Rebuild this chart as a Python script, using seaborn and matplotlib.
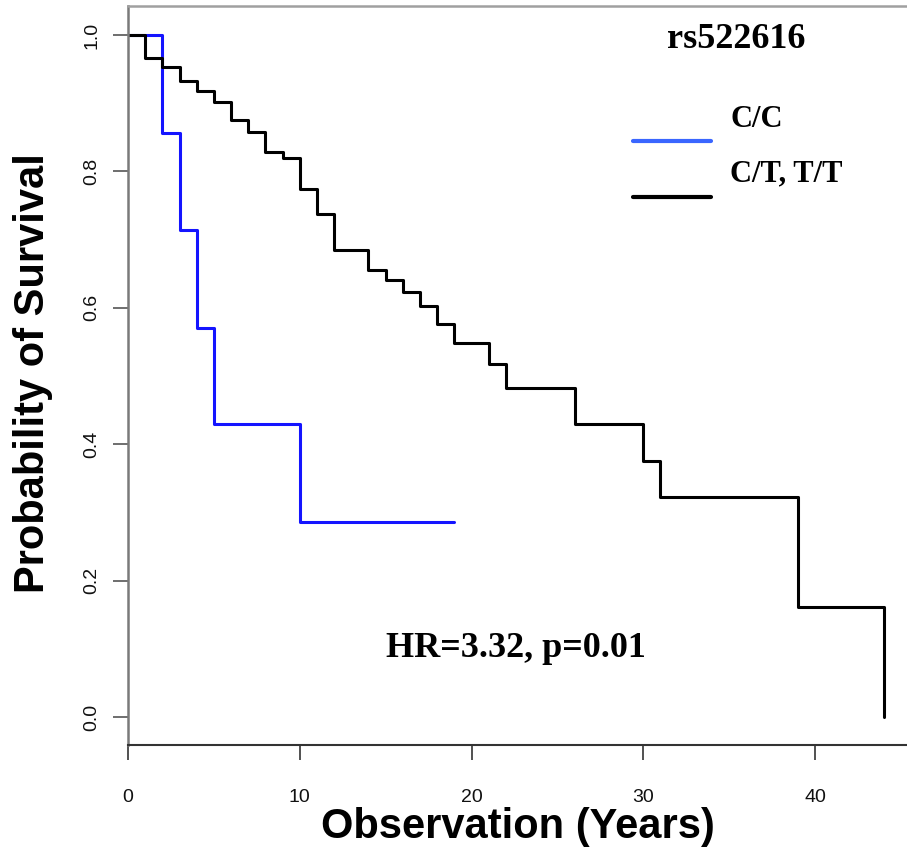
import matplotlib
matplotlib.use("Agg")
import matplotlib.pyplot as plt
from matplotlib.lines import Line2D
import seaborn as sns
import pandas as pd

# ---- data ----
cc_time = [0, 2, 3, 4, 5, 10, 19]
cc_surv = [1.0, 0.857, 0.714, 0.571, 0.429, 0.286, 0.286]

ct_time = [0, 1, 2, 3, 4, 5, 6, 7, 8, 9, 10, 11, 12, 14, 15, 16, 17, 18, 19,
           21, 22, 26, 30, 31, 39, 44]
ct_surv = [1.0, 0.966, 0.953, 0.932, 0.918, 0.902, 0.875, 0.858, 0.829, 0.819,
           0.774, 0.737, 0.685, 0.656, 0.641, 0.623, 0.602, 0.576, 0.548,
           0.517, 0.483, 0.429, 0.376, 0.322, 0.161, 0.0]

group_labels = ["C/C", "C/T, T/T"]
snp_title = "rs522616"
stats_text = "HR=3.32, p=0.01"
x_ticks = [0, 10, 20, 30, 40]
y_ticks = [0.0, 0.2, 0.4, 0.6, 0.8, 1.0]

curve_colors = {"C/C": "#1414ff", "C/T, T/T": "#000000"}
legend_colors = ["#3a66ff", "#000000"]

df = pd.concat([
    pd.DataFrame({"time": cc_time, "surv": cc_surv, "group": group_labels[0]}),
    pd.DataFrame({"time": ct_time, "surv": ct_surv, "group": group_labels[1]}),
])

sns.set_style("white")
plt.rcParams["font.family"] = ["Liberation Sans", "DejaVu Sans"]
plt.rcParams["text.color"] = "black"
plt.rcParams["axes.labelcolor"] = "black"

W, H = 907, 849
fig = plt.figure(figsize=(W / 100, H / 100), dpi=100)
ax_left, ax_right, ax_top, ax_bottom = 128, 914, 6, 745
ax = fig.add_axes([ax_left / W, (H - ax_bottom) / H,
                   (ax_right - ax_left) / W, (ax_bottom - ax_top) / H])

for g in group_labels:
    sub = df[df["group"] == g]
    sns.lineplot(data=sub, x="time", y="surv", ax=ax, color=curve_colors[g],
                 drawstyle="steps-post", estimator=None, sort=False,
                 linewidth=2.2, legend=False)

ax.set_xlim(0, 45.76)
ax.set_ylim(-0.041, 1.0425)
ax.set_xticks(x_ticks)
ax.set_yticks(y_ticks)
ax.set_xticklabels([str(t) for t in x_ticks], fontsize=14, color="#111111")
ax.set_yticklabels([f"{t:.1f}" for t in y_ticks], fontsize=14, rotation=90,
                   va="center", color="#111111")
ax.tick_params(axis="x", bottom=True, direction="out", length=11, width=1.2,
               color="#333333", pad=21)
ax.tick_params(axis="y", left=True, direction="out", length=11, width=1.2,
               color="#555555", pad=9)

for side in ["left", "top", "bottom", "right"]:
    ax.spines[side].set_visible(True)
ax.spines["left"].set_color("#7a7a7a")
ax.spines["left"].set_linewidth(1.8)
ax.spines["top"].set_color("#a0a0a0")
ax.spines["top"].set_linewidth(1.8)
ax.spines["bottom"].set_color("#333333")
ax.spines["bottom"].set_linewidth(1.5)
ax.spines["right"].set_color("#a0a0a0")

ax.set_xlabel("Observation (Years)", fontsize=30, fontweight="bold",
              labelpad=0, color="black")
ax.xaxis.set_label_coords((518 - ax_left) / (ax_right - ax_left),
                          -(838 - ax_bottom) / (ax_bottom - ax_top))
ax.xaxis.label.set_va("baseline")
ax.set_ylabel("Probability of Survival", fontsize=30, fontweight="bold",
              color="black")
ax.yaxis.set_label_coords(-(128 - 33) / (ax_right - ax_left), (745 - 373) / (ax_bottom - ax_top))
ax.yaxis.label.set_va("center")

serif = ["Liberation Serif", "DejaVu Serif"]
fig.text(736 / W, 1 - 48 / H, snp_title, family=serif, fontweight="bold",
         fontsize=26, ha="center", va="baseline", color="black")
fig.text(516 / W, 1 - 657 / H, stats_text, family=serif, fontweight="bold",
         fontsize=26, ha="center", va="baseline", color="black")

# legend drawn in the style of R's legend()
leg_y_line = [141, 197]
leg_y_text = [127, 181]
for lbl, col, yl, yt in zip(group_labels, legend_colors, leg_y_line, leg_y_text):
    fig.add_artist(Line2D([633 / W, 711 / W], [1 - yl / H, 1 - yl / H],
                          color=col, linewidth=3, transform=fig.transFigure))
    fig.text(730 / W, 1 - yt / H, lbl, family=serif, fontweight="bold",
             fontsize=22, ha="left", va="baseline", color="black")

fig.savefig("out.png", dpi=100)
